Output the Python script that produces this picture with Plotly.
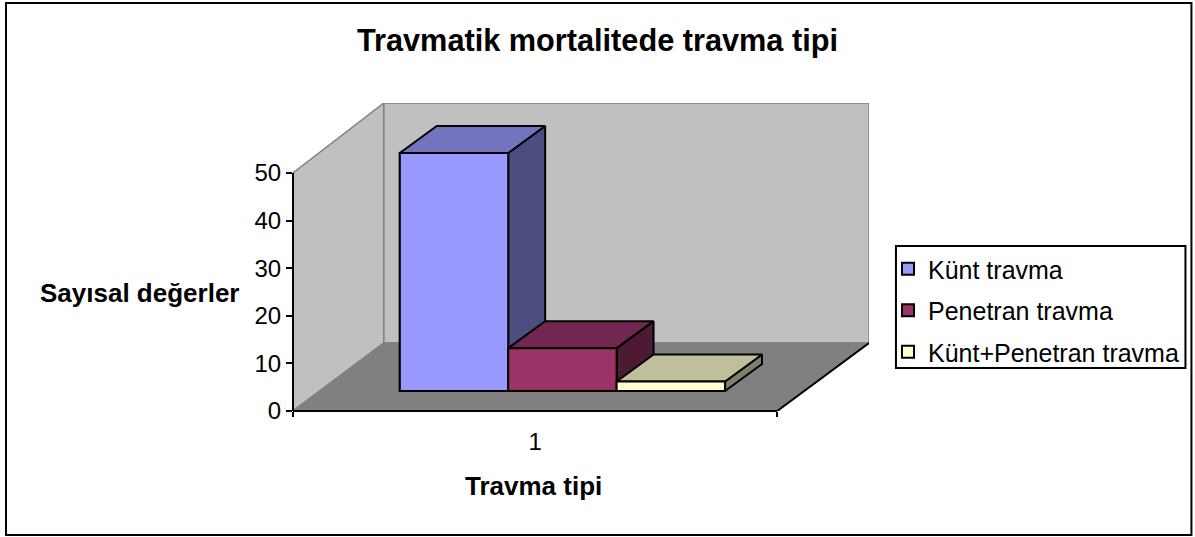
import plotly.graph_objects as go

# Chart data
SERIES_NAMES = ["Künt travma", "Penetran travma", "Künt+Penetran travma"]
SERIES_VALUES = [50, 9, 2]
CATEGORY_LABEL = "1"
VALUE_TICKS = [0, 10, 20, 30, 40, 50]

# Face colours for each series: front, top, side
FRONT_COLORS = ["#9999ff", "#9a3366", "#ffffcc"]
TOP_COLORS = ["#7373bf", "#732650", "#bfbf99"]
SIDE_COLORS = ["#4d4d80", "#4d1a33", "#808066"]

WALL = "#c0c0c0"
FLOOR = "#808080"
FONT = "Liberation Sans, Arial, sans-serif"

WIDTH, HEIGHT = 1195, 537

# Pixel frame of the plot area (origin 293,411, far corner 870,103)
LEFT, RIGHT, TOP, BOTTOM = 293, 870, 103, 411
PX_PER_X = 485            # one category along the front edge
PX_PER_Y = 238 / 50       # y axis: 0 to 50

# Oblique projection offsets, in axis units
WALL_DX = (384 - LEFT) / PX_PER_X
WALL_DY = (BOTTOM - 343) / PX_PER_Y
BAR_DX = 37 / PX_PER_X
BAR_DY = 27 / PX_PER_Y
BAR_BASE = 20 / PX_PER_Y
BAR_START = (400 - LEFT) / PX_PER_X
BAR_WIDTH = 108.6 / PX_PER_X

X_MAX = (RIGHT - LEFT) / PX_PER_X
Y_MAX = (BOTTOM - TOP) / PX_PER_Y


def paper_x(px):
    return (px - LEFT) / (RIGHT - LEFT)


def paper_y(px):
    return (BOTTOM - px) / (BOTTOM - TOP)


def polygon_shape(xs, ys, fill, line="#808080", width=1.5):
    # Walls and floor sit under the bars
    path = "M " + " L ".join(f"{x},{y}" for x, y in zip(xs, ys)) + " Z"
    return dict(type="path", path=path, xref="x", yref="y", layer="below",
                fillcolor=fill, line=dict(color=line, width=width))


def face_trace(xs, ys, color):
    # One face of a bar, closed polygon in data units
    return go.Scatter(
        x=xs, y=ys, mode="lines", fill="toself", fillcolor=color,
        line=dict(color="black", width=2), showlegend=False, hoverinfo="skip",
    )


def axis_line(x0, y0, x1, y1):
    # Axis lines stop short of the plot area, paper refs keep them unclipped
    return dict(type="line", xref="paper", yref="paper", layer="above",
                x0=x0 / X_MAX, y0=y0 / Y_MAX, x1=x1 / X_MAX, y1=y1 / Y_MAX,
                line=dict(color="black", width=2))


fig = go.Figure()

# Bar traces carry the legend entries
for i, name in enumerate(SERIES_NAMES):
    x0 = BAR_START + i * BAR_WIDTH
    fig.add_trace(go.Bar(
        x=[x0 + BAR_WIDTH / 2],
        y=[SERIES_VALUES[i]],
        base=[BAR_BASE],
        width=[BAR_WIDTH],
        name=name,
        legendgroup=name,
        marker=dict(color=FRONT_COLORS[i], line=dict(color="black", width=2)),
    ))

# Side, top and front faces, drawn back to front in series order
for i, value in enumerate(SERIES_VALUES):
    x0 = BAR_START + i * BAR_WIDTH
    x1 = x0 + BAR_WIDTH
    y0 = BAR_BASE
    y1 = BAR_BASE + value
    fig.add_trace(face_trace(
        [x1, x1 + BAR_DX, x1 + BAR_DX, x1, x1],
        [y0, y0 + BAR_DY, y1 + BAR_DY, y1, y0],
        SIDE_COLORS[i],
    ))
    fig.add_trace(face_trace(
        [x0, x0 + BAR_DX, x1 + BAR_DX, x1, x0],
        [y1, y1 + BAR_DY, y1 + BAR_DY, y1, y1],
        TOP_COLORS[i],
    ))
    fig.add_trace(face_trace(
        [x0, x1, x1, x0, x0],
        [y0, y0, y1, y1, y0],
        FRONT_COLORS[i],
    ))

shapes = [
    # Side wall, back wall, floor
    polygon_shape([0, WALL_DX, WALL_DX, 0],
                  [VALUE_TICKS[0], WALL_DY, Y_MAX, VALUE_TICKS[-1]], WALL),
    polygon_shape([WALL_DX, X_MAX, X_MAX, WALL_DX],
                  [WALL_DY, WALL_DY, Y_MAX, Y_MAX], WALL),
    polygon_shape([0, 1, X_MAX, WALL_DX],
                  [0, 0, WALL_DY, WALL_DY], FLOOR),
    # Slanted floor edge in black at the right
    dict(type="line", xref="x", yref="y", x0=1, y0=0, x1=X_MAX, y1=WALL_DY,
         layer="below", line=dict(color="black", width=2)),
    # Axis lines
    axis_line(0, VALUE_TICKS[0], 0, VALUE_TICKS[-1]),
    axis_line(0, 0, 1, 0),
    # Outer frame of the chart
    dict(type="rect", xref="paper", yref="paper", layer="below",
         x0=paper_x(5.5), x1=paper_x(1193), y0=paper_y(535), y1=paper_y(3),
         fillcolor="white", line=dict(color="black", width=2)),
    # Legend box, drawn apart so the entries can sit closer to its left edge
    dict(type="rect", xref="paper", yref="paper", layer="above",
         x0=paper_x(897), x1=paper_x(1187), y0=paper_y(368), y1=paper_y(246),
         line=dict(color="black", width=2)),
]

fig.update_layout(
    width=WIDTH,
    height=HEIGHT,
    autosize=False,
    margin=dict(l=LEFT, r=WIDTH - RIGHT, t=TOP, b=HEIGHT - BOTTOM, pad=0),
    paper_bgcolor="white",
    plot_bgcolor="rgba(0,0,0,0)",
    font=dict(family=FONT, color="black", size=24),
    barmode="overlay",
    shapes=shapes,
    title=dict(
        text="<b>Travmatik mortalitede travma tipi</b>",
        font=dict(size=30.7, family=FONT, color="black"),
        x=paper_x(598), xref="paper", xanchor="center",
        y=1 - 40 / HEIGHT, yref="container", yanchor="middle",
    ),
    legend=dict(
        x=paper_x(888), xanchor="left",
        y=paper_y(246), yanchor="top",
        bgcolor="rgba(0,0,0,0)",
        borderwidth=0,
        tracegroupgap=6,
        font=dict(size=25, family=FONT, color="black"),
        traceorder="grouped",
        itemclick=False,
    ),
    annotations=[
        dict(
            text="<b>Sayısal değerler</b>",
            xref="paper", yref="paper",
            x=paper_x(139), y=paper_y(293),
            xanchor="center", yanchor="middle",
            showarrow=False,
            font=dict(size=26, family=FONT, color="black"),
        ),
        dict(
            text="<b>Travma tipi</b>",
            xref="paper", yref="paper",
            x=paper_x(534), y=paper_y(486),
            xanchor="center", yanchor="middle",
            showarrow=False,
            font=dict(size=26, family=FONT, color="black"),
        ),
    ],
    xaxis=dict(
        range=[0, X_MAX],
        tickvals=[0.5],
        ticktext=[CATEGORY_LABEL],
        ticks="",
        showgrid=False,
        zeroline=False,
        showline=False,
        tickfont=dict(size=24, family=FONT, color="black"),
        ticklabelstandoff=14,
        minor=dict(tickvals=[0, 1], ticks="outside", ticklen=5,
                   tickwidth=2, tickcolor="black", showgrid=False),
    ),
    yaxis=dict(
        range=[0, Y_MAX],
        tickvals=VALUE_TICKS,
        ticks="outside",
        ticklen=6,
        tickwidth=2,
        tickcolor="black",
        showgrid=False,
        zeroline=False,
        showline=False,
        tickfont=dict(size=24, family=FONT, color="black"),
    ),
)

# Page margin off so the figure fills the window exactly
fig.write_html("out.html", post_script="document.body.style.margin='0';",
               config={"displayModeBar": False})
